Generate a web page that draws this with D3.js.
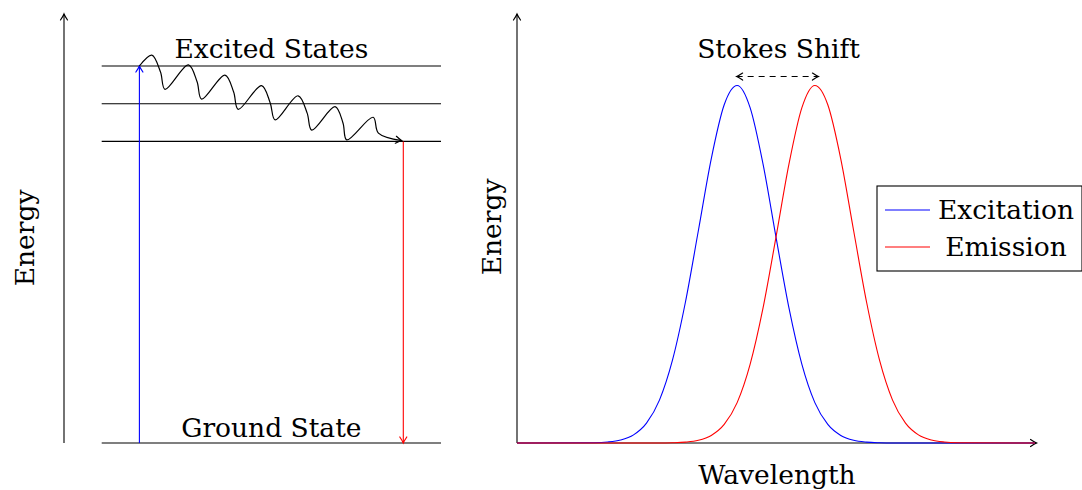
<!DOCTYPE html>
<html>
<head>
<meta charset="utf-8">
<script src="https://cdn.jsdelivr.net/npm/d3@7"></script>
<style>
  body { margin: 0; background: #fff; }
  text { font-family: "DejaVu Serif", serif; fill: #000; }
</style>
</head>
<body>
<div id="chart"></div>
<script>
// left diagram: energy levels (arbitrary units)
var excitedLevels = [10, 9, 8];
var groundLevel = 0;
var absorption = {x: 2, from: 0, to: 10};
var fluorescence = {x: 9, from: 8, to: 0};
// relaxation wiggle
var relaxX = [2.00, 2.33, 2.56, 2.68, 3.30, 3.53, 3.65, 4.27, 4.50, 4.62, 5.24, 5.47, 5.60,
              6.21, 6.45, 6.57, 7.19, 7.40, 7.50, 8.20, 8.34, 8.96];
var relaxY = [10.00, 10.29, 9.84, 9.38, 10.03, 9.58, 9.12, 9.76, 9.31, 8.85, 9.48, 9.02, 8.57,
              9.21, 8.75, 8.30, 8.92, 8.49, 8.04, 8.64, 8.22, 8.02];

// right diagram: spectra
var wavelength = [0, 1.5, 1.75, 2, 2.25, 2.5, 2.75, 3, 3.25, 3.5, 3.75, 4, 4.25, 4.5, 4.75, 5,
                  5.25, 5.5, 5.75, 6, 6.25, 6.5, 6.75, 7, 7.25, 7.5, 7.75, 8, 8.25, 8.5, 10];
var excitation = [0, 0.0008, 0.0027, 0.0083, 0.0228, 0.0556, 0.120, 0.231, 0.393, 0.593, 0.795,
                  0.946, 1.000, 0.938, 0.780, 0.576, 0.378, 0.220, 0.113, 0.052, 0.0212, 0.0076,
                  0.0025, 0.0007, 0, 0, 0, 0, 0, 0, 0];
var emission = [0, 0, 0, 0, 0, 0, 0, 0.0007, 0.0025, 0.0076, 0.0212, 0.052, 0.113, 0.220, 0.378,
                0.576, 0.780, 0.938, 1.000, 0.946, 0.795, 0.593, 0.393, 0.231, 0.120, 0.0556,
                0.0228, 0.0083, 0.0027, 0.0008, 0];
var stokesFrom = 4.24, stokesTo = 5.82, stokesHeight = 1.025;
var seriesNames = ["Excitation", "Emission"];
var seriesColors = ["blue", "red"];

var width = 1082, height = 490;
var fs = "26.5px";
var svg = d3.select("#chart").append("svg")
  .attr("width", width).attr("height", height);

// arrow markers
var defs = svg.append("defs");
["black", "blue", "red"].forEach(function(c) {
  defs.append("marker")
    .attr("id", "arr-" + c)
    .attr("viewBox", "-8 -5 10 10")
    .attr("markerWidth", 10).attr("markerHeight", 10)
    .attr("markerUnits", "userSpaceOnUse")
    .attr("refX", 0).attr("refY", 0)
    .attr("orient", "auto-start-reverse")
    .append("path")
      .attr("d", "M-6,-3.5 Q-2,-0.8 0,0 Q-2,0.8 -6,3.5")
      .attr("fill", "none")
      .attr("stroke", c)
      .attr("stroke-width", 1.2)
      .attr("stroke-linecap", "round");
});

// ---------- left panel ----------
var xL = d3.scaleLinear().domain([0, 10]).range([64, 441]);
var yL = d3.scaleLinear().domain([0, 10]).range([443, 66]);
var left = svg.append("g");

left.append("line")
  .attr("x1", xL(0)).attr("x2", xL(0))
  .attr("y1", yL(0)).attr("y2", yL(11.38))
  .attr("stroke", "black").attr("stroke-width", 1.1)
  .attr("marker-end", "url(#arr-black)");

left.selectAll(".level")
  .data(excitedLevels.concat([groundLevel]))
  .enter().append("line")
    .attr("class", "level")
    .attr("x1", xL(1)).attr("x2", xL(10))
    .attr("y1", function(d) { return yL(d); })
    .attr("y2", function(d) { return yL(d); })
    .attr("stroke", "black").attr("stroke-width", 1.1);

left.append("line")
  .attr("x1", xL(absorption.x)).attr("x2", xL(absorption.x))
  .attr("y1", yL(absorption.from)).attr("y2", yL(absorption.to))
  .attr("stroke", "blue").attr("stroke-width", 1.1)
  .attr("marker-end", "url(#arr-blue)");

left.append("line")
  .attr("x1", xL(fluorescence.x)).attr("x2", xL(fluorescence.x))
  .attr("y1", yL(fluorescence.from)).attr("y2", yL(fluorescence.to))
  .attr("stroke", "red").attr("stroke-width", 1.1)
  .attr("marker-end", "url(#arr-red)");

var relaxPts = relaxX.map(function(x, i) { return [x, relaxY[i]]; });
left.append("path")
  .datum(relaxPts)
  .attr("d", d3.line()
    .x(function(d) { return xL(d[0]); })
    .y(function(d) { return yL(d[1]); })
    .curve(d3.curveCatmullRom.alpha(0.5)))
  .attr("fill", "none").attr("stroke", "black").attr("stroke-width", 1.2)
  .attr("marker-end", "url(#arr-black)");

left.append("text")
  .attr("x", xL(5.5)).attr("y", 58)
  .attr("text-anchor", "middle").style("font-size", fs)
  .text("Excited States");
left.append("text")
  .attr("x", xL(5.5)).attr("y", 437)
  .attr("text-anchor", "middle").style("font-size", fs)
  .text("Ground State");
left.append("text")
  .attr("transform", "translate(34,238) rotate(-90)")
  .attr("text-anchor", "middle").style("font-size", fs)
  .text("Energy");

// ---------- right panel ----------
var xR = d3.scaleLinear().domain([0, 10]).range([517, 1035]);
var yR = d3.scaleLinear().domain([0, 1.2]).range([443, 14]);
var right = svg.append("g");

right.append("line")
  .attr("x1", xR(0)).attr("x2", xR(0))
  .attr("y1", yR(0)).attr("y2", yR(1.2))
  .attr("stroke", "black").attr("stroke-width", 1.1)
  .attr("marker-end", "url(#arr-black)");
right.append("line")
  .attr("x1", xR(0)).attr("x2", xR(10.03))
  .attr("y1", yR(0)).attr("y2", yR(0))
  .attr("stroke", "black").attr("stroke-width", 1.1)
  .attr("marker-end", "url(#arr-black)");

var line = d3.line()
  .x(function(d) { return xR(d[0]); })
  .y(function(d) { return yR(d[1]); })
  .curve(d3.curveMonotoneX);

[excitation, emission].forEach(function(vals, i) {
  right.append("path")
    .datum(wavelength.map(function(w, j) { return [w, vals[j]]; }))
    .attr("d", line)
    .attr("fill", "none")
    .attr("stroke", seriesColors[i])
    .attr("stroke-width", 1.1);
});

right.append("line")
  .attr("x1", xR(stokesFrom)).attr("x2", xR(stokesTo))
  .attr("y1", yR(stokesHeight)).attr("y2", yR(stokesHeight))
  .attr("stroke", "black").attr("stroke-width", 1.1)
  .attr("stroke-dasharray", "6,5")
  .attr("marker-start", "url(#arr-black)")
  .attr("marker-end", "url(#arr-black)");

right.append("text")
  .attr("x", xR((stokesFrom + stokesTo) / 2) + 1).attr("y", 58)
  .attr("text-anchor", "middle").style("font-size", fs)
  .text("Stokes Shift");
right.append("text")
  .attr("x", 777).attr("y", 484)
  .attr("text-anchor", "middle").style("font-size", fs)
  .text("Wavelength");
right.append("text")
  .attr("transform", "translate(501,227) rotate(-90)")
  .attr("text-anchor", "middle").style("font-size", fs)
  .text("Energy");

// legend
var legend = right.append("g");
legend.append("rect")
  .attr("x", 877).attr("y", 186).attr("width", 205).attr("height", 85)
  .attr("fill", "white").attr("stroke", "black").attr("stroke-width", 1.1);
seriesNames.forEach(function(name, i) {
  var yy = 210 + i * 37;
  legend.append("line")
    .attr("x1", 885).attr("x2", 930).attr("y1", yy).attr("y2", yy)
    .attr("stroke", seriesColors[i]).attr("stroke-width", 1.1);
  legend.append("text")
    .attr("x", 1006).attr("y", yy + 9)
    .attr("text-anchor", "middle").style("font-size", fs)
    .text(name);
});
</script>
</body>
</html>
